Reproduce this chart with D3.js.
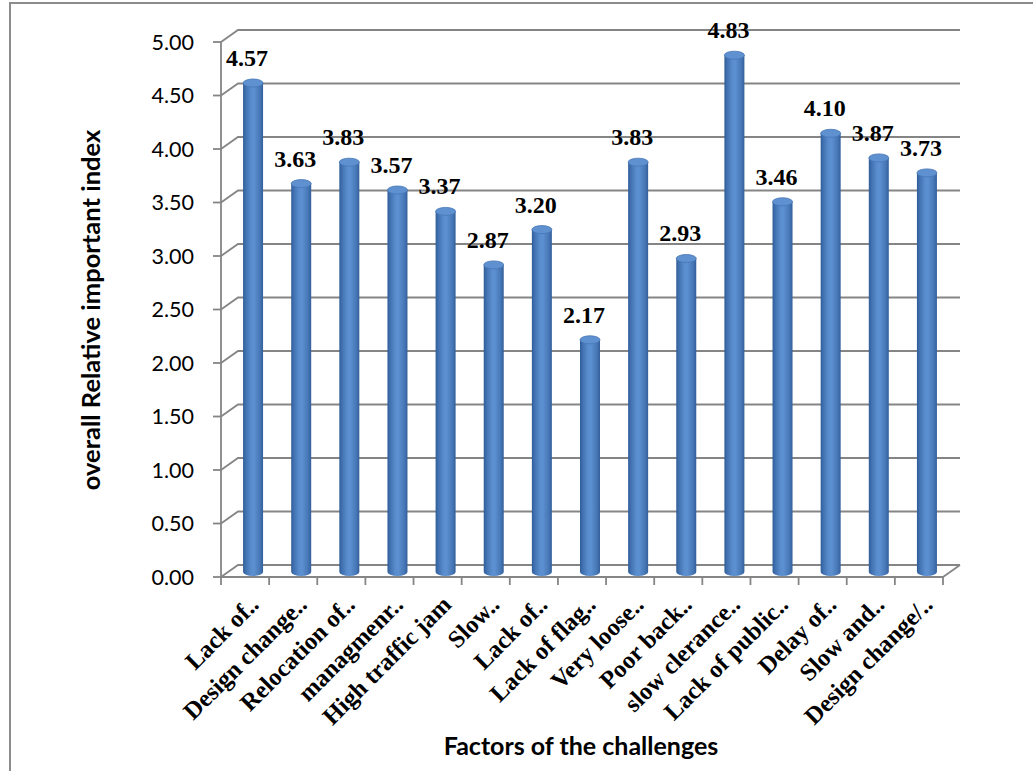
<!DOCTYPE html>
<html><head><meta charset="utf-8">
<script src="https://cdn.jsdelivr.net/npm/d3@7"></script>
<style>body{margin:0;background:#fff}svg{display:block}</style>
</head><body>
<svg id="c" width="1033" height="771"></svg>
<script>
const categories = ["Lack of..","Design change..","Relocation of..","managmenr..","High traffic jam","Slow..","Lack of..","Lack of flag..","Very loose..","Poor back..","slow clerance..","Lack of public..","Delay of..","Slow and..","Design change/.."];
const values = [4.57,3.63,3.83,3.57,3.37,2.87,3.20,2.17,3.83,2.93,4.83,3.46,4.10,3.87,3.73];
const yTicks = [0,0.5,1,1.5,2,2.5,3,3.5,4,4.5,5];
const yTitle = "overall Relative important index";
const xTitle = "Factors of the challenges";

const svg = d3.select("#c");
const L = 221, R = 943, B = 577, T = 42;
const DX = 17, DY = -12;
const x = d3.scaleBand().domain(d3.range(categories.length)).range([L, R]);
const y = d3.scaleLinear().domain([0, 5]).range([B, T]);
const grey = "#858585";

// outer border
svg.append("rect").attr("x",10).attr("y",3).attr("width",1040).attr("height",800)
  .attr("fill","none").attr("stroke","#8c8c8c").attr("stroke-width",2);

// gradient for cylinders
const defs = svg.append("defs");
const g1 = defs.append("linearGradient").attr("id","cyl").attr("x1","0").attr("x2","1").attr("y1","0").attr("y2","0");
[[0,"#2f5c96"],[0.12,"#3f6fae"],[0.4,"#5a8dcd"],[0.55,"#5c90d0"],[0.85,"#4676b5"],[1,"#335f99"]]
  .forEach(([o,c])=>g1.append("stop").attr("offset",o).attr("stop-color",c));

// back wall gridlines + left wall diagonals
const grid = svg.append("g").attr("stroke",grey).attr("stroke-width",1.8).attr("fill","none");
yTicks.forEach(t=>{
  const yy = y(t);
  grid.append("path").attr("d",`M${L},${yy}L${L+DX},${yy+DY}L${R+DX},${yy+DY}`);
});
// floor right edge
grid.append("path").attr("d",`M${R},${B}L${R+DX},${B+DY}`);
// front axes
grid.append("path").attr("d",`M${L},${T}L${L},${B}L${R},${B}`);
// y ticks
yTicks.forEach(t=>grid.append("path").attr("d",`M${L-8},${y(t)}L${L},${y(t)}`));
// x ticks
d3.range(categories.length+1).forEach(i=>{
  const xx = L + i*x.step();
  grid.append("path").attr("d",`M${xx},${B}L${xx},${B+8}`);
});

// y tick labels
svg.append("g").selectAll("text").data(yTicks).join("text")
  .attr("x",194).attr("y",d=>y(d)).attr("dy","0.36em").attr("text-anchor","end")
  .attr("font-family","Lato, 'Open Sans', sans-serif").attr("font-size",21.5).attr("fill","#000")
  .text(d=>d.toFixed(2));

// bars (cylinders)
const bw = 20, ry = 4;
const bars = svg.append("g");
values.forEach((v,i)=>{
  const cx = x(i) + x.bandwidth()/2 + 8;
  const yb = y(0) - 5, yt = y(v) - 5;
  const g = bars.append("g");
  g.append("path").attr("d",`M${cx-bw/2},${yt}L${cx-bw/2},${yb}A${bw/2},${ry} 0 0 0 ${cx+bw/2},${yb}L${cx+bw/2},${yt}Z`)
    .attr("fill","url(#cyl)");
  g.append("ellipse").attr("cx",cx).attr("cy",yt).attr("rx",bw/2).attr("ry",ry)
    .attr("fill","#5f90cf").attr("stroke","#4676b5").attr("stroke-width",0.8);
});

// value labels
svg.append("g").selectAll("text").data(values).join("text")
  .attr("x",(d,i)=>x(i)+x.bandwidth()/2+2).attr("y",d=>y(d)-22)
  .attr("text-anchor","middle")
  .attr("font-family","'Liberation Serif', 'Times New Roman', serif").attr("font-weight","bold")
  .attr("font-size",24).attr("fill","#000")
  .text(d=>d.toFixed(2));

// category labels
svg.append("g").selectAll("text").data(categories).join("text")
  .attr("transform",(d,i)=>`translate(${x(i)+x.bandwidth()/2+9},${B+23}) rotate(-45)`)
  .attr("text-anchor","end").attr("dy","0.35em")
  .attr("font-family","'Liberation Serif', 'Times New Roman', serif").attr("font-weight","bold")
  .attr("font-size",24.5).attr("fill","#000")
  .text(d=>d);

// axis titles
svg.append("text").attr("transform",`translate(100,310) rotate(-90)`).attr("text-anchor","middle")
  .attr("font-family","Lato, 'Open Sans', sans-serif").attr("font-weight","bold").attr("font-size",25.5)
  .text(yTitle);
svg.append("text").attr("x",581).attr("y",755).attr("text-anchor","middle")
  .attr("font-family","Lato, 'Open Sans', sans-serif").attr("font-weight","bold").attr("font-size",25)
  .text(xTitle);
</script>
</body></html>
